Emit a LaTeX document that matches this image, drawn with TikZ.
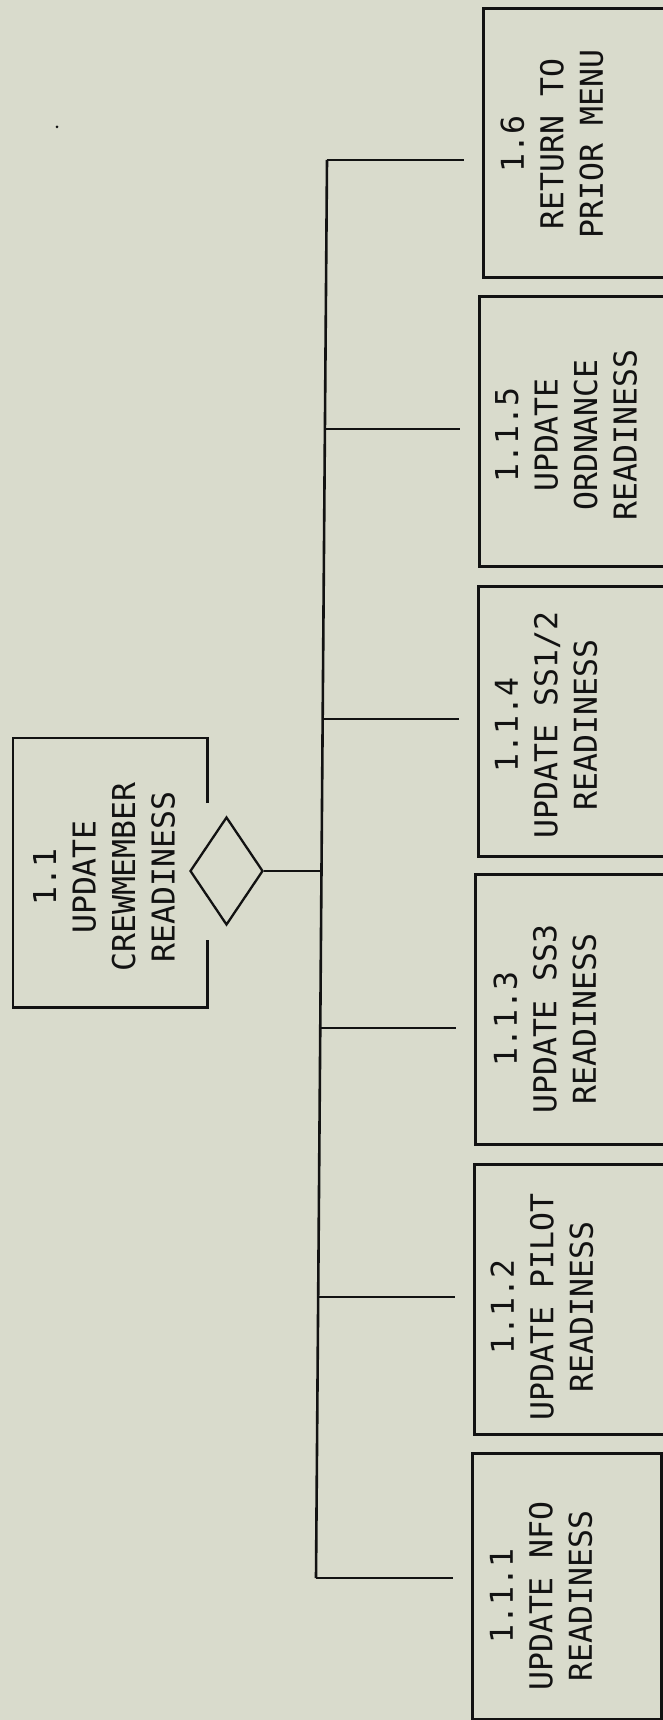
\documentclass[tikz,border=0pt]{standalone}
\usepackage{fontspec}
\newfontfamily\plotfont{DejaVu Sans Mono}
\usetikzlibrary{shapes.geometric}
\definecolor{paper}{RGB}{217,219,204}
\definecolor{ink}{RGB}{18,18,18}
\begin{document}
\begin{tikzpicture}[x=1pt,y=-1pt,
  line/.style={draw=ink, line width=2.6pt},
  stubline/.style={line, shorten >=18pt},
  boxnode/.style={draw=ink, line width=2.6pt, anchor=north west, inner sep=0pt},
  lbl/.style={rotate=90, align=center, inner sep=0pt, text=ink,
    font=\plotfont\fontsize{31.5}{39.5}\selectfont},
]
\useasboundingbox (0,0) rectangle (663,1720);
\clip (0,0) rectangle (663,1720);
\fill[paper] (0,0) rectangle (663,1720);

% child boxes (right sides run off the sheet, except the lowest)
\node[boxnode, minimum width=189pt, minimum height=269pt] (b16)  at (482,7)    {};
\node[boxnode, minimum width=191pt, minimum height=270pt] (b115) at (478,295)  {};
\node[boxnode, minimum width=191pt, minimum height=270pt] (b114) at (477,585)  {};
\node[boxnode, minimum width=192pt, minimum height=270pt] (b113) at (474,873)  {};
\node[boxnode, minimum width=193pt, minimum height=270pt] (b112) at (473,1163) {};
\node[boxnode, minimum width=189pt, minimum height=266pt] (b111) at (471,1452) {};

% labels
\node[lbl] (t16)  at (552,144)  {1.6\\RETURN TO\\PRIOR MENU};
\node[lbl] (t115) at (566,435)  {1.1.5\\UPDATE\\ORDNANCE\\READINESS};
\node[lbl] (t114) at (546,725)  {1.1.4\\UPDATE SS1/2\\READINESS};
\node[lbl] (t113) at (545,1019) {1.1.3\\UPDATE SS3\\READINESS};
\node[lbl] (t112) at (542,1307) {1.1.2\\UPDATE PILOT\\READINESS};
\node[lbl] (t111) at (541,1596) {1.1.1\\UPDATE NFO\\READINESS};

% parent box with gap on right side
\node[anchor=north west, minimum width=194pt, minimum height=269pt, inner sep=0pt] (b11) at (13,738) {};
\draw[line] (b11.north east) ++(0,65) -- (b11.north east) -- (b11.north west)
  -- (b11.south west) -- (b11.south east) -- ++(0,-67);
\node[lbl] (t11) at (104,877) {1.1\\UPDATE\\CREWMEMBER\\READINESS};

% diamond
\node[diamond, draw=ink, line width=2.3pt, inner sep=0pt, minimum width=73pt, minimum height=108pt] (dia) at (226.5,871) {};

% bus junctions
\coordinate (j16)  at (327,160);
\coordinate (j115) at (324.9,429);
\coordinate (j114) at (322.7,719);
\coordinate (jd)   at (321.5,871);
\coordinate (j113) at (320.3,1028);
\coordinate (j112) at (318.2,1297);
\coordinate (j111) at (316,1578);

\draw[line] (j16) -- (j111);
\draw[line] (dia.east) -- (jd);
\draw[stubline] (j16)  -- (j16 -| b16.west);
\draw[stubline] (j115) -- (j115 -| b115.west);
\draw[stubline] (j114) -- (j114 -| b114.west);
\draw[stubline] (j113) -- (j113 -| b113.west);
\draw[stubline] (j112) -- (j112 -| b112.west);
\draw[stubline] (j111) -- (j111 -| b111.west);

% speck
\fill[ink] (57,127) circle (1.5pt);
\end{tikzpicture}
\end{document}
